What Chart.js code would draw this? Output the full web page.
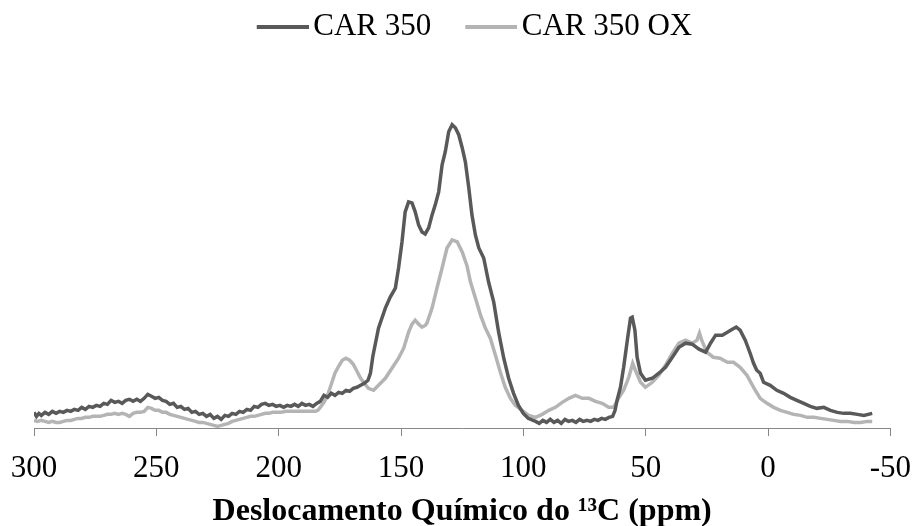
<!DOCTYPE html>
<html>
<head>
<meta charset="utf-8">
<script src="https://cdn.jsdelivr.net/npm/chart.js@4.4.1/dist/chart.umd.min.js"></script>
<style>
  html, body { margin: 0; padding: 0; background: #ffffff; }
  #wrap { width: 915px; height: 526px; }
</style>
</head>
<body>
<div id="wrap"><canvas id="c" width="915" height="526"></canvas></div>
<script>
// ---- DATA ----
const seriesNames = ["CAR 350", "CAR 350 OX"];
const axisTitle = "Deslocamento Químico do ¹³C (ppm)";
const tickValues = [300, 250, 200, 150, 100, 50, 0, -50];

// CAR 350 : chemical shift (ppm) and intensity (arbitrary units)
const carPpm = [300,299,298,297,295.5,294,292.5,291,289.5,288,286.5,285,283.5,282,280.5,279,277.5,276,274.5,273,271.5,270,268.5,267,265.5,264,262.5,261,259.5,258,256.5,255,253.5,252,250.5,249,247.5,246,244.5,243,241.5,240,238.5,237,235.5,234,232.5,231,229.5,228,226.5,225,223.5,222,220.5,219,217.5,216,214.5,213,211.5,210,208.5,207,205.5,204,202.5,201,199.5,198,196.5,195,193.5,192,190.5,189,187.5,186,184.5,183,181.5,180,178.5,177,175.5,174,172.5,171,169.5,168,166.5,165,163.5,162.5,161.5,159.2,156.4,154.4,152.3,151,149.6,148.3,146.9,145.5,144.2,142.8,141.4,140.1,138.7,137.3,136,134.6,133.2,131.9,130.5,129.1,127.8,126.4,125,123.7,122.3,121,119.6,118.2,116.2,114.2,112.1,110.1,108,106,104,102,100,98,96,95,93.5,92,90.5,89,87.5,86,84.5,83,81.5,80,78.5,77,75.5,74,72.5,71,69.5,68,66.5,65,63.5,62.5,61.7,60.3,59,57.5,56.2,55.5,54.4,53.5,52.1,50.1,47.3,44.6,41.9,39.1,36.4,33.7,31,28.2,25.5,23.5,21.4,18.7,16.6,14.6,13,11.4,9.3,7.3,5.9,4.6,3.2,1.8,-0.9,-3.6,-6.4,-9.1,-11.8,-14.6,-17.3,-20,-22.8,-25.5,-28.3,-31,-33.7,-36.5,-39.2,-42.6];
const carVal = [16,12,15,13,16,14,17,15,17,16,18,17,19,18,21,19,22,21,23,22,25,24,28,26,27,25,28,29,27,29,27,30,34,32,30,31,28,27,24,25,21,22,19,20,16,17,14,15,12,14,10,12,9,13,12,15,14,17,16,19,18,22,21,24,25,23,24,22,23,21,23,22,24,22,25,23,24,22,25,27,33,31,35,33,36,35,38,37,40,41,43,45,48,55,72,100,120,131,140,160,186,216,226,225,216,203,196,194,200,213,223,236,263,276,296,303,300,293,280,266,240,213,193,180,170,146,126,96,70,50,35,23,15,10,8,7,5,8,6,9,6,8,5,9,7,8,6,9,7,8,7,9,8,10,9,11,12,18,28,41,61,88,110,111,98,71,55,48,50,55,61,71,81,85,84,79,76,85,93,93,96,99,101,98,88,75,65,58,55,46,43,38,35,31,28,25,22,20,21,18,16,15,15,14,13,15];

// CAR 350 OX
const oxPpm = [300,298.5,297,295.5,294,292.5,291,289.5,288,286.5,285,283.5,282,280.5,279,277.5,276,274.5,273,271.5,270,268.5,267,265.5,264,262.5,261,259.5,258,256.5,255,253.5,252,250.5,249,247.5,246,244.5,243,241.5,240,238.5,237,235.5,234,232.5,231,229.5,228,226.5,225,223.5,222,220.5,219,217.5,216,214.5,213,211.5,210,208.5,207,205.5,204,202.5,201,199,197,195,193,191,189,187,185,184,183,181.5,180,178.5,177,175.5,174,172.5,171,169.5,168,166.5,165,163.3,161.2,159.2,156.4,153.7,151,148.9,146.9,145.5,144.2,142.8,141.4,140,139.4,137.3,135.3,133.2,131.2,129.1,127,125,123,121.6,119.6,117.5,115.5,113.5,111.4,109.4,107.4,105.3,103.3,100.5,97.8,95,92.3,89.6,86.9,84.1,81.4,78.7,75.9,73.2,70.5,67.8,65.1,63.1,61.1,59,56.9,55.3,54.2,52.1,50.1,47.3,44.6,41.9,39.1,36.4,33.7,31,29,28,27.1,25,22.4,19.6,16.6,14.1,11.4,8.6,5.9,3.2,0.4,-2.3,-5.1,-7.8,-10.5,-13.3,-16,-18.7,-21.5,-24.2,-26.9,-29.7,-32.4,-35.2,-37.9,-40.6,-42.6];
const oxVal = [8,7,8,7,6,7,6,6,7,8,8,9,10,10,11,11,12,12,12,13,14,14,15,14,15,14,12,15,16,16,17,21,20,18,18,16,16,14,13,12,11,10,9,8,7,6,6,5,4,3,2,3,4,5,7,8,9,10,11,12,12,13,14,15,15,16,16,16,17,17,17,17,17,17,17,18,21,26,33,44,55,62,68,70,68,64,57,50,45,40,38,43,50,60,70,80,96,104,108,104,101,103,105,120,140,160,180,188,186,176,162,146,130,113,100,90,73,56,41,30,23,18,13,11,14,18,21,26,30,33,30,30,27,25,21,21,30,38,51,65,58,46,41,46,53,63,75,85,88,85,88,95,88,76,71,70,66,66,61,53,41,30,25,21,18,16,14,13,11,11,10,9,8,7,7,6,6,7,7];

// ---- CHART ----
const toPoints = (xs, ys) => xs.map((x, i) => ({ x: x, y: ys[i] }));
const FONT = "'Liberation Serif', 'Times New Roman', serif";
const DARK = '#595959';
const LIGHT = '#b4b4b4';

// legend swatch: a short line that sits close to its label
function legendLine(color) {
  const cv = document.createElement('canvas');
  cv.width = 63; cv.height = 4;
  const g = cv.getContext('2d');
  g.fillStyle = color;
  g.fillRect(11, 0, 52, 4);
  return cv;
}

new Chart(document.getElementById('c'), {
  type: 'line',
  data: {
    datasets: [
      { label: seriesNames[0], data: toPoints(carPpm, carVal), borderColor: DARK, backgroundColor: DARK, borderWidth: 3.5, pointRadius: 0, pointStyle: legendLine(DARK), tension: 0, fill: false },
      { label: seriesNames[1], data: toPoints(oxPpm, oxVal), borderColor: LIGHT, backgroundColor: LIGHT, borderWidth: 3.5, pointRadius: 0, pointStyle: legendLine(LIGHT), tension: 0, fill: false }
    ]
  },
  options: {
    responsive: false,
    animation: false,
    devicePixelRatio: 1,
    layout: { padding: { top: -22.5, left: 34, right: 0, bottom: 0 } },
    plugins: {
      tooltip: { enabled: false },
      legend: {
        position: 'top',
        labels: {
          usePointStyle: true,
          pointStyleWidth: 41,
          color: '#000000',
          padding: 34,
          font: { family: FONT, size: 31 }
        }
      }
    },
    scales: {
      x: {
        type: 'linear',
        reverse: true,
        min: -50,
        max: 300,
        afterBuildTicks: (axis) => { axis.ticks = tickValues.map(v => ({ value: v })); },
        border: { display: true, color: '#878787', width: 1 },
        grid: { display: true, drawOnChartArea: false, drawTicks: true, tickLength: 18, tickBorderDash: [7, 60], color: '#878787' },
        ticks: { color: '#000000', font: { family: FONT, size: 31 }, padding: 4, maxRotation: 0 },
        title: { display: true, text: axisTitle, color: '#000000', font: { family: FONT, size: 32, weight: 'bold' }, padding: { top: 1, bottom: -5 } }
      },
      y: {
        display: false,
        min: 0,
        max: 375
      }
    }
  }
});
</script>
</body>
</html>
